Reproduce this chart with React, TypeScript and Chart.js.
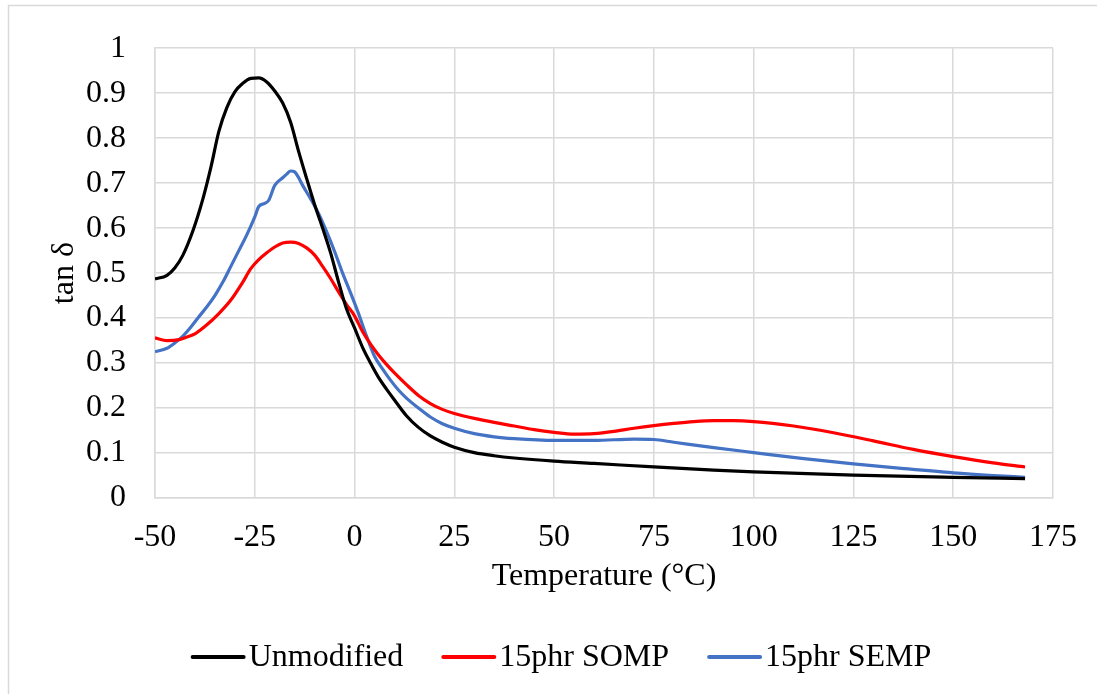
import { useEffect, useRef } from "react";
import { Chart, registerables } from "chart.js";

Chart.register(...registerables);

const seriesNames = ["Unmodified", "15phr SOMP", "15phr SEMP"];
const seriesColors = ["#000000", "#ff0000", "#4472c4"];

const tempUnmod = [-50, -47, -45, -43, -40.5, -38, -36, -34, -32, -30, -28, -26, -24, -22, -20, -18, -16, -14, -12, -10, -8, -6, -4, -2, 0, 2, 4, 6, 8, 10, 13, 16, 19, 22, 25, 30, 35, 40, 50, 60, 75, 90, 100, 125, 150, 168];
const tanUnmod = [0.487, 0.495, 0.512, 0.54, 0.594, 0.665, 0.735, 0.815, 0.868, 0.903, 0.922, 0.933, 0.934, 0.925, 0.905, 0.878, 0.835, 0.77, 0.71, 0.652, 0.6, 0.545, 0.48, 0.42, 0.378, 0.335, 0.3, 0.268, 0.242, 0.218, 0.183, 0.157, 0.138, 0.124, 0.113, 0.101, 0.094, 0.089, 0.082, 0.077, 0.069, 0.062, 0.058, 0.051, 0.046, 0.043];

const tempSOMP = [-50, -47, -44, -42, -40, -37, -34, -31, -28, -26, -24, -22, -20, -18, -16, -14, -12, -10, -8, -6, -4, -2, 0, 2, 4, 6, 8, 10, 13, 16, 19, 22, 25, 30, 35, 40, 45, 50, 55, 60, 65, 70, 75, 80, 85, 90, 95, 100, 110, 120, 130, 140, 150, 160, 168];
const tanSOMP = [0.356, 0.35, 0.352, 0.358, 0.365, 0.385, 0.41, 0.44, 0.48, 0.51, 0.53, 0.545, 0.558, 0.567, 0.569, 0.566, 0.556, 0.54, 0.515, 0.488, 0.458, 0.43, 0.405, 0.37, 0.342, 0.318, 0.297, 0.278, 0.252, 0.228, 0.21, 0.197, 0.188, 0.177, 0.168, 0.16, 0.152, 0.146, 0.142, 0.143, 0.148, 0.155, 0.161, 0.166, 0.17, 0.172, 0.172, 0.17, 0.16, 0.145, 0.127, 0.108, 0.092, 0.078, 0.069];

const tempSEMP = [-50, -47, -45, -43, -41, -39, -37, -35, -33, -31, -29, -27, -25, -24, -22.5, -21.5, -20, -18, -17, -16, -15, -14, -13, -11, -9, -7, -5, -3, -1, 1, 3, 5, 7, 9, 11, 13, 16, 19, 22, 25, 30, 35, 40, 50, 60, 70, 75, 80, 90, 100, 112, 125, 137, 150, 160, 168];
const tanSEMP = [0.325, 0.333, 0.345, 0.36, 0.38, 0.403, 0.425, 0.45, 0.48, 0.515, 0.55, 0.585, 0.625, 0.648, 0.655, 0.662, 0.695, 0.712, 0.72, 0.727, 0.725, 0.712, 0.695, 0.665, 0.632, 0.592, 0.548, 0.5, 0.456, 0.41, 0.36, 0.315, 0.287, 0.262, 0.24, 0.222, 0.2, 0.18, 0.165, 0.155, 0.143, 0.136, 0.132, 0.128, 0.128, 0.131, 0.13, 0.124, 0.112, 0.101, 0.088, 0.076, 0.066, 0.056, 0.05, 0.046];

const xMin = -50;
const xMax = 175;
const xStep = 25;
const yMin = 0;
const yMax = 1;
const yStep = 0.1;

const FONT_FAMILY = '"Liberation Serif", "Times New Roman", serif';
const FONT_SIZE = 32;

function toPoints(xs: number[], ys: number[]) {
  return xs.map((x, i) => ({ x, y: ys[i] }));
}

const framePlugin = {
  id: "frame",
  beforeDraw(chart: any) {
    const { ctx, width, height } = chart;
    ctx.save();
    ctx.fillStyle = "#ffffff";
    ctx.fillRect(0, 0, width, height);
    ctx.strokeStyle = "#d9d9d9";
    ctx.lineWidth = 1.5;
    ctx.strokeRect(8.5, 5.5, width + 20, height + 20);
    ctx.restore();
  },
};

const legendPlugin = {
  id: "customLegend",
  afterDraw(chart: any) {
    const { ctx } = chart;
    ctx.save();
    ctx.font = `${FONT_SIZE}px ${FONT_FAMILY}`;
    const sample = 55;
    const gap = 3;
    const itemGap = 38;
    const widths = seriesNames.map((n) => ctx.measureText(n).width);
    const total =
      widths.reduce((a, b) => a + b, 0) + seriesNames.length * (sample + gap) + itemGap * (seriesNames.length - 1);
    let x = 561 - total / 2;
    const y = 657;
    seriesNames.forEach((name, i) => {
      ctx.strokeStyle = seriesColors[i];
      ctx.lineWidth = 4;
      ctx.lineCap = "round";
      ctx.beginPath();
      ctx.moveTo(x + 2, y);
      ctx.lineTo(x + sample - 2, y);
      ctx.stroke();
      x += sample + gap;
      ctx.fillStyle = "#000000";
      ctx.textAlign = "left";
      ctx.textBaseline = "middle";
      ctx.fillText(name, x, y + 1);
      x += widths[i] + itemGap;
    });
    ctx.restore();
  },
};

export default function App() {
  const canvasRef = useRef<HTMLCanvasElement | null>(null);

  useEffect(() => {
    const canvas = canvasRef.current;
    if (!canvas) return;
    const font = { family: FONT_FAMILY, size: FONT_SIZE };
    const data = [
      toPoints(tempUnmod, tanUnmod),
      toPoints(tempSOMP, tanSOMP),
      toPoints(tempSEMP, tanSEMP),
    ];
    const chart = new Chart(canvas, {
      type: "line",
      data: {
        datasets: seriesNames.map((name, i) => ({
          label: name,
          data: data[i],
          borderColor: seriesColors[i],
          backgroundColor: seriesColors[i],
          borderWidth: 3.2,
          pointRadius: 0,
          fill: false,
          cubicInterpolationMode: "monotone" as const,
        })),
      },
      options: {
        responsive: false,
        animation: false,
        layout: { padding: { left: 0, top: 36, right: 44, bottom: 0 } },
        plugins: {
          legend: { display: false },
          tooltip: { enabled: false },
        },
        scales: {
          x: {
            type: "linear",
            min: xMin,
            max: xMax,
            ticks: { stepSize: xStep, padding: 20, font, color: "#000000", maxRotation: 0 },
            grid: { color: "#d9d9d9", lineWidth: 1.5, drawTicks: false },
            border: { color: "#d9d9d9", width: 1.5 },
            title: {
              display: true,
              text: "Temperature (°C)",
              font,
              color: "#000000",
              padding: { top: 0, bottom: 98 },
            },
            afterFit: (s: any) => {
              s.height = 196;
            },
          },
          y: {
            type: "linear",
            min: yMin,
            max: yMax,
            ticks: {
              stepSize: yStep,
              padding: 29,
              font,
              color: "#000000",
              callback: (v: any) => String(Number(Number(v).toFixed(1))),
            },
            grid: { color: "#d9d9d9", lineWidth: 1.5, drawTicks: false },
            border: { color: "#d9d9d9", width: 1.5 },
            title: {
              display: true,
              text: "tan δ",
              font,
              color: "#000000",
              padding: { top: 45, bottom: 0 },
            },
            afterFit: (s: any) => {
              s.width = 155;
            },
          },
        },
      },
      plugins: [framePlugin, legendPlugin],
    });
    return () => chart.destroy();
  }, []);

  return (
    <div style={{ position: "absolute", left: 0, top: 0, width: 1097, height: 694 }}>
      <canvas ref={canvasRef} width={1097} height={694} style={{ display: "block" }} />
    </div>
  );
}
